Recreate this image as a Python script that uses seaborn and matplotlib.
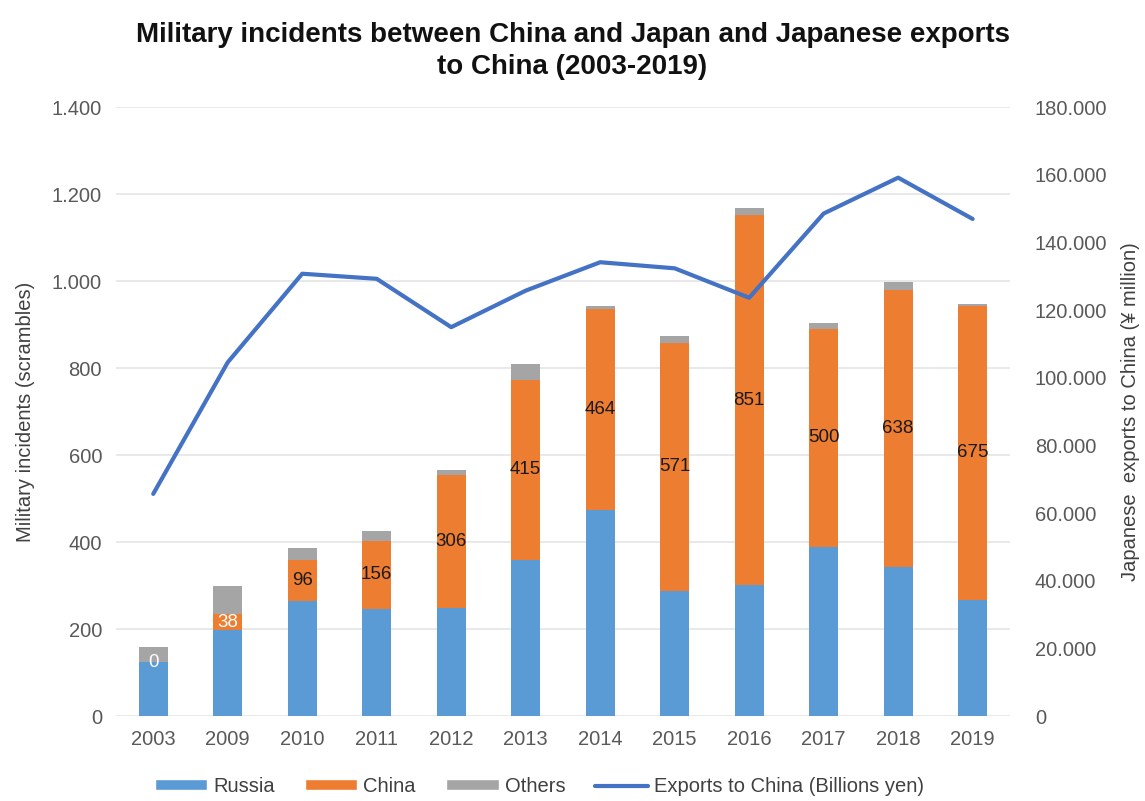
import matplotlib
matplotlib.use("Agg")
import matplotlib.pyplot as plt
import matplotlib.ticker as mticker
from matplotlib.patches import Patch
from matplotlib.lines import Line2D
import seaborn as sns
import pandas as pd

years = ["2003", "2009", "2010", "2011", "2012", "2013", "2014", "2015", "2016", "2017", "2018", "2019"]
russia = [124, 197, 264, 247, 248, 359, 473, 288, 301, 390, 343, 268]
china = [0, 38, 96, 156, 306, 415, 464, 571, 851, 500, 638, 675]
others = [34, 64, 26, 22, 13, 36, 6, 14, 16, 14, 18, 4]
exports = [65700, 104600, 130800, 129300, 115000, 125800, 134200, 132400, 123700, 148600, 159200, 147000]

C_RUS = "#5B9BD5"
C_CHN = "#ED7D31"
C_OTH = "#A5A5A5"
C_LINE = "#4472C4"
TXT = "#595959"

sns.set_theme(style="white")
plt.rcParams["font.family"] = ["Liberation Sans", "DejaVu Sans"]

df = pd.DataFrame({"year": years, "russia": russia, "china": china, "others": others, "exports": exports})
df["rc"] = df["russia"] + df["china"]
df["total"] = df["rc"] + df["others"]

fig = plt.figure(figsize=(11.45, 8.01), dpi=100)
ax = fig.add_axes([0.1013, 0.106, 0.7807, 0.760])

W = 0.39
sns.barplot(data=df, x="year", y="total", color=C_OTH, width=W, saturation=1, ax=ax, zorder=2, linewidth=0)
sns.barplot(data=df, x="year", y="rc", color=C_CHN, width=W, saturation=1, ax=ax, zorder=3, linewidth=0)
sns.barplot(data=df, x="year", y="russia", color=C_RUS, width=W, saturation=1, ax=ax, zorder=4, linewidth=0)

for i, (r, c) in enumerate(zip(russia, china)):
    col = "white" if c < 50 else "#1a1a1a"
    ax.text(i, r + c / 2, f"{c}", ha="center", va="center", fontsize=13.5, color=col, zorder=6)

ax.set_xlim(-0.5, 11.5)
ax.set_ylim(0, 1400)
ax.yaxis.set_major_locator(mticker.MultipleLocator(200))
ax.yaxis.set_major_formatter(mticker.FuncFormatter(lambda v, p: f"{int(v):,}".replace(",", ".")))
ax.grid(axis="y", color="#E3E3E3", linewidth=1.1, zorder=0)
ax.set_axisbelow(True)
for s in ax.spines.values():
    s.set_visible(False)
ax.tick_params(axis="both", length=0, labelsize=14.5, colors=TXT, pad=10)
ax.set_xlabel("")
ax.set_ylabel("Military incidents (scrambles)", fontsize=14.5, color="#404040", labelpad=12)

ax2 = ax.twinx()
sns.lineplot(data=df, x="year", y="exports", color=C_LINE, linewidth=3, ax=ax2, sort=False, zorder=5)
ax2.set_ylim(0, 180000)
ax2.yaxis.set_major_locator(mticker.MultipleLocator(20000))
ax2.yaxis.set_major_formatter(mticker.FuncFormatter(lambda v, p: f"{int(v):,}".replace(",", ".")))
for s in ax2.spines.values():
    s.set_visible(False)
ax2.tick_params(axis="y", length=0, labelsize=14.5, colors=TXT, pad=18)
ax2.set_ylabel("Japanese  exports to China (¥ million)", fontsize=14.5, color="#404040", labelpad=10)
ax2.grid(False)

fig.text(0.5, 0.972, "Military incidents between China and Japan and Japanese exports\nto China (2003-2019)",
         ha="center", va="top", fontsize=20, fontweight="bold", color="#111111", linespacing=1.3)

handles = [
    Patch(facecolor=C_RUS, label="Russia"),
    Patch(facecolor=C_CHN, label="China"),
    Patch(facecolor=C_OTH, label="Others"),
    Line2D([0], [0], color=C_LINE, linewidth=3, label="Exports to China (Billions yen)"),
]
fig.legend(handles=handles, loc="center", bbox_to_anchor=(0.471, 0.018), ncol=4, frameon=False,
           fontsize=14.5, handlelength=2.6, handleheight=0.45, columnspacing=1.5, handletextpad=0.3,
           labelcolor="#404040")

fig.savefig("out.png", dpi=100)
